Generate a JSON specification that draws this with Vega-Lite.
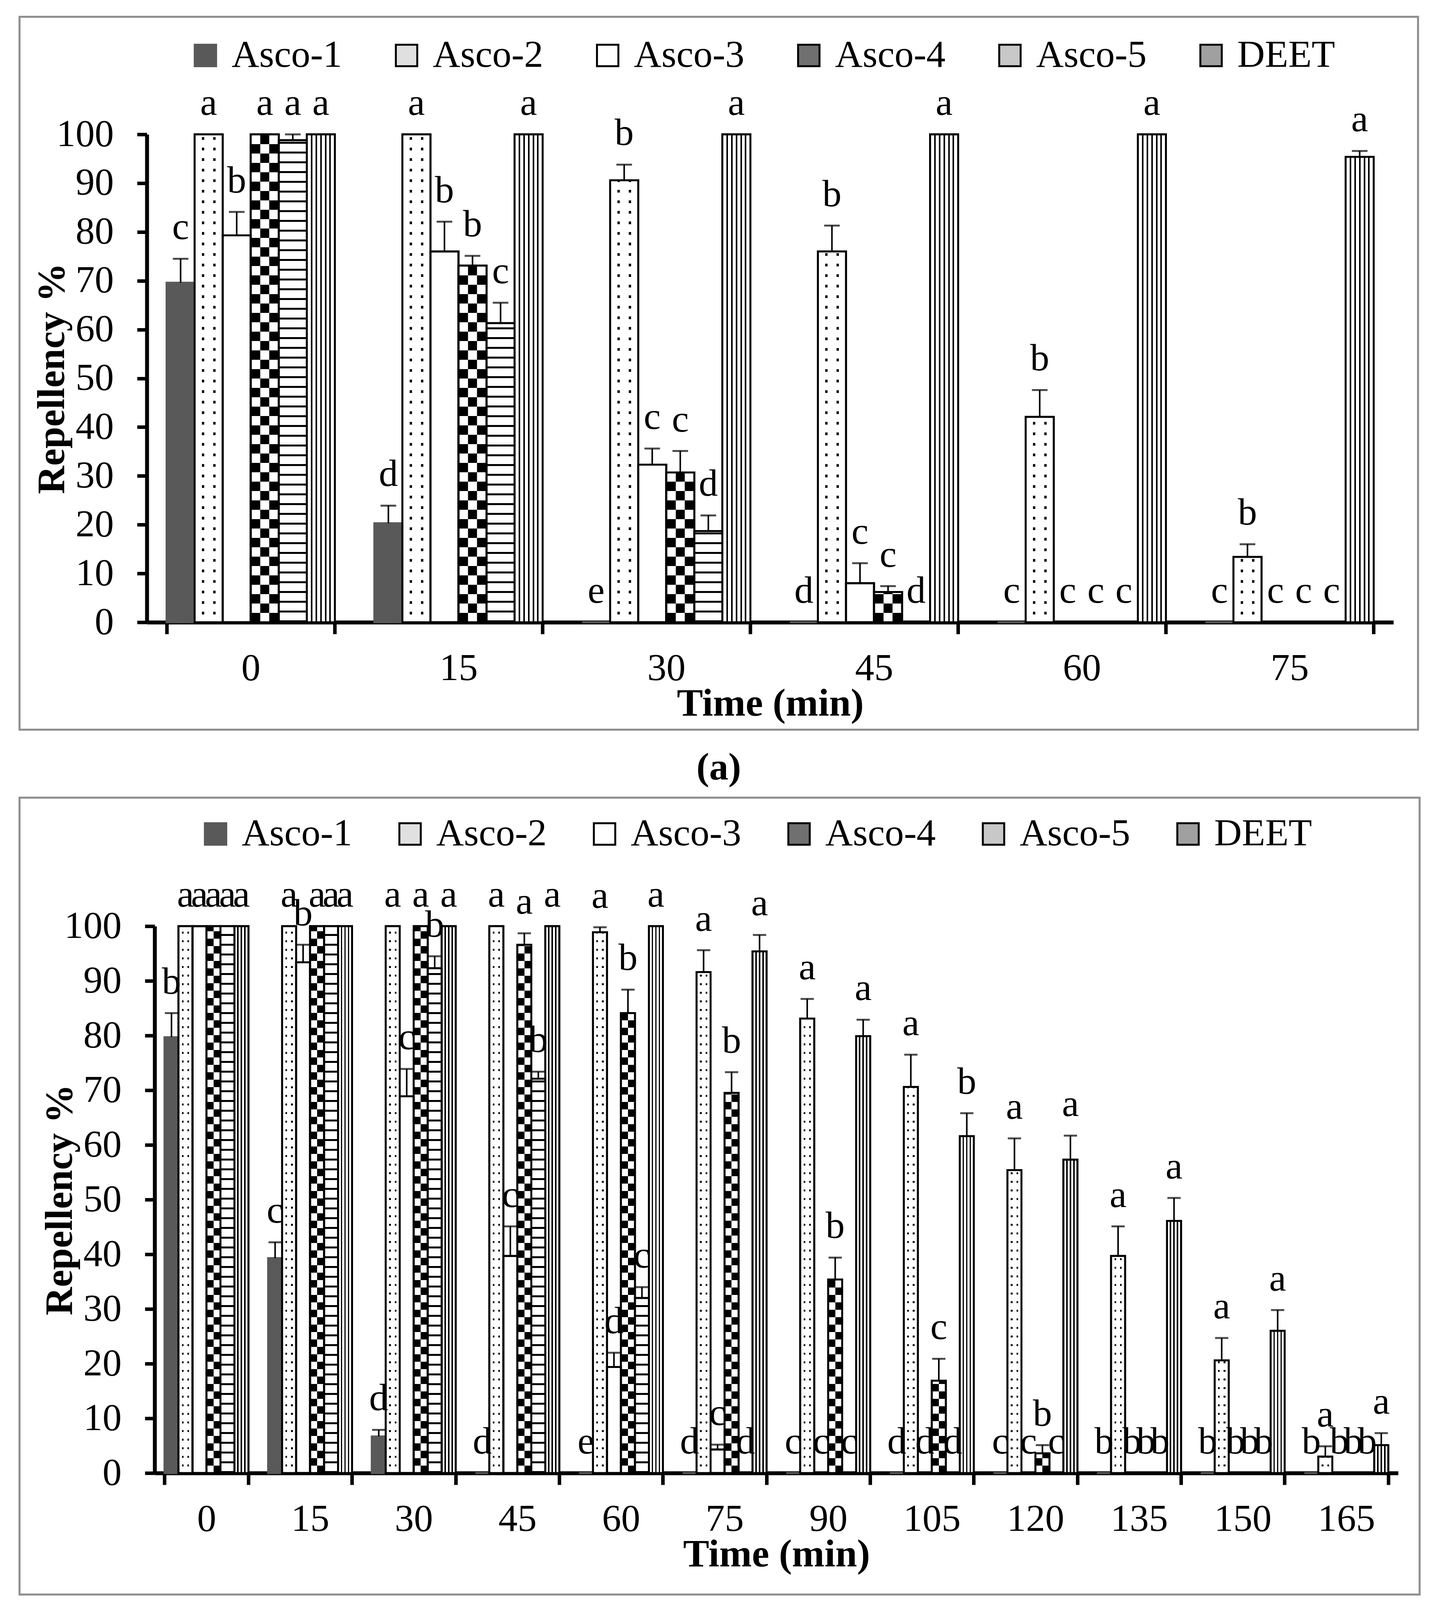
{
  "$schema": "https://vega.github.io/schema/vega-lite/v6.json",
  "background": "white",
  "padding": {"left": 47, "top": 40, "right": 0, "bottom": 150},
  "bounds": "flush",
  "spacing": 174,
  "resolve": {
    "scale": {"x": "independent", "y": "independent", "xOffset": "independent", "fill": "independent", "stroke": "independent"},
    "legend": {"fill": "independent", "stroke": "independent"}
  },
  "config": {
    "font": "Liberation Serif",
    "view": {"stroke": "#8c8c8c", "strokeWidth": 5},
    "axis": {
      "grid": false,
      "zindex": 1,
      "domainColor": "black",
      "domainWidth": 10,
      "tickColor": "black",
      "tickWidth": 9,
      "labelFont": "Liberation Serif",
      "labelFontSize": 98,
      "labelColor": "black",
      "titleFont": "Liberation Serif",
      "titleFontSize": 100,
      "titleFontWeight": "bold",
      "titleColor": "black"
    },
    "legend": {
      "orient": "none",
      "direction": "horizontal",
      "columns": 6,
      "symbolType": "square",
      "symbolSize": 3000,
      "symbolStrokeWidth": 5,
      "labelFont": "Liberation Serif",
      "labelFontSize": 98,
      "labelColor": "black",
      "labelOffset": 18,
      "labelLimit": 0,
      "title": null
    },
    "title": {"font": "Liberation Serif", "fontSize": 98, "fontWeight": "bold", "color": "black"}
  },
  "vconcat": [
    {
      "width": 3581,
      "height": 1825,
      "title": {"text": "(a)", "orient": "bottom", "anchor": "middle", "offset": 50},
      "data": {
        "values": [
          {"time": 0, "series": "Asco-1", "mean": 69.6, "upper": 74.5, "letter": "c"},
          {"time": 0, "series": "Asco-2", "mean": 100, "upper": 100, "letter": "a"},
          {"time": 0, "series": "Asco-3", "mean": 79.3, "upper": 84.1, "letter": "b"},
          {"time": 0, "series": "Asco-4", "mean": 100, "upper": 100, "letter": "a"},
          {"time": 0, "series": "Asco-5", "mean": 98.8, "upper": 100, "letter": "a"},
          {"time": 0, "series": "DEET", "mean": 100, "upper": 100, "letter": "a"},
          {"time": 15, "series": "Asco-1", "mean": 20.3, "upper": 23.9, "letter": "d"},
          {"time": 15, "series": "Asco-2", "mean": 100, "upper": 100, "letter": "a"},
          {"time": 15, "series": "Asco-3", "mean": 76.0, "upper": 82.1, "letter": "b"},
          {"time": 15, "series": "Asco-4", "mean": 73.1, "upper": 75.1, "letter": "b"},
          {"time": 15, "series": "Asco-5", "mean": 61.3, "upper": 65.5, "letter": "c"},
          {"time": 15, "series": "DEET", "mean": 100, "upper": 100, "letter": "a"},
          {"time": 30, "series": "Asco-1", "mean": 0, "upper": 0, "letter": "e"},
          {"time": 30, "series": "Asco-2", "mean": 90.6, "upper": 93.8, "letter": "b"},
          {"time": 30, "series": "Asco-3", "mean": 32.3, "upper": 35.6, "letter": "c"},
          {"time": 30, "series": "Asco-4", "mean": 30.7, "upper": 35.1, "letter": "c"},
          {"time": 30, "series": "Asco-5", "mean": 18.7, "upper": 21.9, "letter": "d"},
          {"time": 30, "series": "DEET", "mean": 100, "upper": 100, "letter": "a"},
          {"time": 45, "series": "Asco-1", "mean": 0, "upper": 0, "letter": "d"},
          {"time": 45, "series": "Asco-2", "mean": 76.0, "upper": 81.3, "letter": "b"},
          {"time": 45, "series": "Asco-3", "mean": 8.0, "upper": 12.1, "letter": "c"},
          {"time": 45, "series": "Asco-4", "mean": 6.2, "upper": 7.4, "letter": "c"},
          {"time": 45, "series": "Asco-5", "mean": 0, "upper": 0, "letter": "d"},
          {"time": 45, "series": "DEET", "mean": 100, "upper": 100, "letter": "a"},
          {"time": 60, "series": "Asco-1", "mean": 0, "upper": 0, "letter": "c"},
          {"time": 60, "series": "Asco-2", "mean": 42.1, "upper": 47.6, "letter": "b"},
          {"time": 60, "series": "Asco-3", "mean": 0, "upper": 0, "letter": "c"},
          {"time": 60, "series": "Asco-4", "mean": 0, "upper": 0, "letter": "c"},
          {"time": 60, "series": "Asco-5", "mean": 0, "upper": 0, "letter": "c"},
          {"time": 60, "series": "DEET", "mean": 100, "upper": 100, "letter": "a"},
          {"time": 75, "series": "Asco-1", "mean": 0, "upper": 0, "letter": "c"},
          {"time": 75, "series": "Asco-2", "mean": 13.4, "upper": 16.0, "letter": "b"},
          {"time": 75, "series": "Asco-3", "mean": 0, "upper": 0, "letter": "c"},
          {"time": 75, "series": "Asco-4", "mean": 0, "upper": 0, "letter": "c"},
          {"time": 75, "series": "Asco-5", "mean": 0, "upper": 0, "letter": "c"},
          {"time": 75, "series": "DEET", "mean": 95.4, "upper": 96.6, "letter": "a"}
        ]
      },
      "encoding": {
        "x": {
          "field": "time",
          "type": "ordinal",
          "title": "Time (min)",
          "scale": {"range": [326, 3518], "paddingInner": 0.19, "paddingOuter": 0.095},
          "axis": {"offset": -275, "tickSize": 30, "tickBand": "extent", "labelAngle": 0, "labelPadding": 40, "titlePadding": -8}
        },
        "xOffset": {
          "field": "series",
          "type": "nominal",
          "sort": ["Asco-1", "Asco-2", "Asco-3", "Asco-4", "Asco-5", "DEET"],
          "scale": {"domain": ["Asco-1", "Asco-2", "Asco-3", "Asco-4", "Asco-5", "DEET"], "paddingInner": 0, "paddingOuter": 0}
        },
        "y": {
          "field": "mean",
          "type": "quantitative",
          "title": "Repellency %",
          "scale": {"domain": [0, 100], "range": [1550, 301], "nice": false, "zero": true},
          "axis": {"offset": -326, "tickSize": 25, "labelPadding": 60, "titlePadding": -8, "values": [0, 10, 20, 30, 40, 50, 60, 70, 80, 90, 100]}
        }
      },
      "layer": [
        {
          "mark": {"type": "bar", "strokeWidth": 5},
          "encoding": {
            "fill": {
              "field": "series",
              "type": "nominal",
              "scale": {
                "domain": ["Asco-1", "Asco-2", "Asco-3", "Asco-4", "Asco-5", "DEET"],
                "range": ["#595959", "#e0e0e0", "#ffffff", "#707070", "#c8c8c8", "#a0a0a0"]
              },
              "legend": {"legendX": 427, "legendY": 50, "columnPadding": 115}
            },
            "stroke": {
              "field": "series",
              "type": "nominal",
              "scale": {
                "domain": ["Asco-1", "Asco-2", "Asco-3", "Asco-4", "Asco-5", "DEET"],
                "range": ["#595959", "black", "black", "black", "black", "black"]
              },
              "legend": {"legendX": 427, "legendY": 50, "columnPadding": 115}
            }
          }
        },
        {
          "transform": [{"filter": {"field": "series", "oneOf": ["Asco-4", "Asco-5"]}}],
          "mark": {"type": "bar", "fill": "white", "strokeWidth": 0}
        },
        {
          "transform": [{"filter": {"field": "series", "equal": "DEET"}}],
          "mark": {
            "type": "bar",
            "strokeWidth": 0,
            "fill": {
              "gradient": "linear", "x1": 0, "y1": 0, "x2": 1, "y2": 0,
              "stops": [
                {"offset": 0, "color": "white"}, {"offset": 0.139, "color": "white"},
                {"offset": 0.139, "color": "black"}, {"offset": 0.195, "color": "black"},
                {"offset": 0.195, "color": "white"}, {"offset": 0.305, "color": "white"},
                {"offset": 0.305, "color": "black"}, {"offset": 0.361, "color": "black"},
                {"offset": 0.361, "color": "white"}, {"offset": 0.472, "color": "white"},
                {"offset": 0.472, "color": "black"}, {"offset": 0.528, "color": "black"},
                {"offset": 0.528, "color": "white"}, {"offset": 0.639, "color": "white"},
                {"offset": 0.639, "color": "black"}, {"offset": 0.695, "color": "black"},
                {"offset": 0.695, "color": "white"}, {"offset": 0.805, "color": "white"},
                {"offset": 0.805, "color": "black"}, {"offset": 0.861, "color": "black"},
                {"offset": 0.861, "color": "white"}, {"offset": 1, "color": "white"}
              ]
            }
          }
        },
        {
          "transform": [{"filter": {"field": "series", "equal": "Asco-2"}}],
          "mark": {
            "type": "bar",
            "strokeWidth": 0,
            "fill": {
              "gradient": "linear", "x1": 0, "y1": 0, "x2": 1, "y2": 0,
              "stops": [
                {"offset": 0, "color": "white"}, {"offset": 0.26, "color": "white"},
                {"offset": 0.26, "color": "black"}, {"offset": 0.34, "color": "black"},
                {"offset": 0.34, "color": "white"}, {"offset": 0.66, "color": "white"},
                {"offset": 0.66, "color": "black"}, {"offset": 0.74, "color": "black"},
                {"offset": 0.74, "color": "white"}, {"offset": 1, "color": "white"}
              ]
            }
          }
        },
        {
          "transform": [{"filter": {"field": "series", "equal": "Asco-2"}}],
          "mark": {"type": "rule", "color": "white", "strokeWidth": 68, "strokeDash": [20, 7]},
          "encoding": {"y": {"datum": 0, "type": "quantitative"}, "y2": {"field": "mean"}}
        },
        {
          "transform": [{"filter": {"field": "series", "equal": "Asco-5"}}],
          "mark": {"type": "rule", "color": "black", "strokeWidth": 68, "strokeDash": [5, 20]},
          "encoding": {"y": {"datum": 0, "type": "quantitative"}, "y2": {"field": "mean"}}
        },
        {
          "transform": [{"filter": {"field": "series", "equal": "Asco-4"}}],
          "mark": {"type": "rule", "color": "black", "strokeWidth": 68, "strokeDash": [24, 24]},
          "encoding": {"y": {"datum": 0, "type": "quantitative"}, "y2": {"field": "mean"}}
        },
        {
          "transform": [{"filter": {"field": "series", "equal": "Asco-4"}}],
          "mark": {"type": "rule", "color": "white", "strokeWidth": 23, "strokeDash": [24, 24]},
          "encoding": {"y": {"datum": 0, "type": "quantitative"}, "y2": {"field": "mean"}}
        },
        {
          "transform": [{"filter": {"field": "series", "equal": "Asco-4"}}],
          "mark": {"type": "rule", "color": "black", "strokeWidth": 23, "strokeDash": [24, 24], "strokeDashOffset": 24},
          "encoding": {"y": {"datum": 0, "type": "quantitative"}, "y2": {"field": "mean"}}
        },
        {
          "transform": [{"filter": "datum.series != 'Asco-1'"}],
          "mark": {"type": "bar", "filled": false, "stroke": "black", "strokeWidth": 5}
        },
        {
          "mark": {"type": "rule", "color": "black", "strokeWidth": 4},
          "encoding": {"y2": {"field": "upper"}}
        },
        {
          "transform": [{"filter": "datum.upper > datum.mean"}],
          "mark": {"type": "tick", "color": "black", "thickness": 5, "size": 40},
          "encoding": {"y": {"field": "upper", "type": "quantitative"}}
        },
        {
          "mark": {"type": "text", "baseline": "alphabetic", "align": "center", "dy": -50, "fontSize": 98, "color": "black"},
          "encoding": {
            "y": {"field": "upper", "type": "quantitative"},
            "text": {"field": "letter"}
          }
        }
      ]
    },
    {
      "width": 3585,
      "height": 2040,
      "title": {"text": "(b)", "orient": "bottom", "anchor": "middle", "offset": 15},
      "data": {
        "values": [
          {"time": 0, "series": "Asco-1", "mean": 79.7, "upper": 84.1, "letter": "b"},
          {"time": 0, "series": "Asco-2", "mean": 100, "upper": 100, "letter": "a"},
          {"time": 0, "series": "Asco-3", "mean": 100, "upper": 100, "letter": "a"},
          {"time": 0, "series": "Asco-4", "mean": 100, "upper": 100, "letter": "a"},
          {"time": 0, "series": "Asco-5", "mean": 100, "upper": 100, "letter": "a"},
          {"time": 0, "series": "DEET", "mean": 100, "upper": 100, "letter": "a"},
          {"time": 15, "series": "Asco-1", "mean": 39.3, "upper": 42.2, "letter": "c"},
          {"time": 15, "series": "Asco-2", "mean": 100, "upper": 100, "letter": "a"},
          {"time": 15, "series": "Asco-3", "mean": 93.4, "upper": 96.6, "letter": "b"},
          {"time": 15, "series": "Asco-4", "mean": 100, "upper": 100, "letter": "a"},
          {"time": 15, "series": "Asco-5", "mean": 100, "upper": 100, "letter": "a"},
          {"time": 15, "series": "DEET", "mean": 100, "upper": 100, "letter": "a"},
          {"time": 30, "series": "Asco-1", "mean": 6.7, "upper": 7.9, "letter": "d"},
          {"time": 30, "series": "Asco-2", "mean": 100, "upper": 100, "letter": "a"},
          {"time": 30, "series": "Asco-3", "mean": 68.9, "upper": 73.9, "letter": "c"},
          {"time": 30, "series": "Asco-4", "mean": 100, "upper": 100, "letter": "a"},
          {"time": 30, "series": "Asco-5", "mean": 92.3, "upper": 94.5, "letter": "b"},
          {"time": 30, "series": "DEET", "mean": 100, "upper": 100, "letter": "a"},
          {"time": 45, "series": "Asco-1", "mean": 0, "upper": 0, "letter": "d"},
          {"time": 45, "series": "Asco-2", "mean": 100, "upper": 100, "letter": "a"},
          {"time": 45, "series": "Asco-3", "mean": 39.7, "upper": 45.1, "letter": "c"},
          {"time": 45, "series": "Asco-4", "mean": 96.6, "upper": 98.7, "letter": "a"},
          {"time": 45, "series": "Asco-5", "mean": 72.1, "upper": 73.4, "letter": "b"},
          {"time": 45, "series": "DEET", "mean": 100, "upper": 100, "letter": "a"},
          {"time": 60, "series": "Asco-1", "mean": 0, "upper": 0, "letter": "e"},
          {"time": 60, "series": "Asco-2", "mean": 98.9, "upper": 99.8, "letter": "a"},
          {"time": 60, "series": "Asco-3", "mean": 19.4, "upper": 22.0, "letter": "d"},
          {"time": 60, "series": "Asco-4", "mean": 84.1, "upper": 88.4, "letter": "b"},
          {"time": 60, "series": "Asco-5", "mean": 32.0, "upper": 34.0, "letter": "c"},
          {"time": 60, "series": "DEET", "mean": 100, "upper": 100, "letter": "a"},
          {"time": 75, "series": "Asco-1", "mean": 0, "upper": 0, "letter": "d"},
          {"time": 75, "series": "Asco-2", "mean": 91.6, "upper": 95.6, "letter": "a"},
          {"time": 75, "series": "Asco-3", "mean": 4.3, "upper": 5.2, "letter": "c"},
          {"time": 75, "series": "Asco-4", "mean": 69.5, "upper": 73.3, "letter": "b"},
          {"time": 75, "series": "Asco-5", "mean": 0, "upper": 0, "letter": "d"},
          {"time": 75, "series": "DEET", "mean": 95.4, "upper": 98.4, "letter": "a"},
          {"time": 90, "series": "Asco-1", "mean": 0, "upper": 0, "letter": "c"},
          {"time": 90, "series": "Asco-2", "mean": 83.1, "upper": 86.7, "letter": "a"},
          {"time": 90, "series": "Asco-3", "mean": 0, "upper": 0, "letter": "c"},
          {"time": 90, "series": "Asco-4", "mean": 35.4, "upper": 39.4, "letter": "b"},
          {"time": 90, "series": "Asco-5", "mean": 0, "upper": 0, "letter": "c"},
          {"time": 90, "series": "DEET", "mean": 79.9, "upper": 82.9, "letter": "a"},
          {"time": 105, "series": "Asco-1", "mean": 0, "upper": 0, "letter": "d"},
          {"time": 105, "series": "Asco-2", "mean": 70.6, "upper": 76.5, "letter": "a"},
          {"time": 105, "series": "Asco-3", "mean": 0, "upper": 0, "letter": "d"},
          {"time": 105, "series": "Asco-4", "mean": 16.9, "upper": 20.9, "letter": "c"},
          {"time": 105, "series": "Asco-5", "mean": 0, "upper": 0, "letter": "d"},
          {"time": 105, "series": "DEET", "mean": 61.6, "upper": 65.8, "letter": "b"},
          {"time": 120, "series": "Asco-1", "mean": 0, "upper": 0, "letter": "c"},
          {"time": 120, "series": "Asco-2", "mean": 55.4, "upper": 61.2, "letter": "a"},
          {"time": 120, "series": "Asco-3", "mean": 0, "upper": 0, "letter": "c"},
          {"time": 120, "series": "Asco-4", "mean": 3.6, "upper": 5.1, "letter": "b"},
          {"time": 120, "series": "Asco-5", "mean": 0, "upper": 0, "letter": "c"},
          {"time": 120, "series": "DEET", "mean": 57.3, "upper": 61.7, "letter": "a"},
          {"time": 135, "series": "Asco-1", "mean": 0, "upper": 0, "letter": "b"},
          {"time": 135, "series": "Asco-2", "mean": 39.7, "upper": 45.1, "letter": "a"},
          {"time": 135, "series": "Asco-3", "mean": 0, "upper": 0, "letter": "b"},
          {"time": 135, "series": "Asco-4", "mean": 0, "upper": 0, "letter": "b"},
          {"time": 135, "series": "Asco-5", "mean": 0, "upper": 0, "letter": "b"},
          {"time": 135, "series": "DEET", "mean": 46.1, "upper": 50.3, "letter": "a"},
          {"time": 150, "series": "Asco-1", "mean": 0, "upper": 0, "letter": "b"},
          {"time": 150, "series": "Asco-2", "mean": 20.6, "upper": 24.7, "letter": "a"},
          {"time": 150, "series": "Asco-3", "mean": 0, "upper": 0, "letter": "b"},
          {"time": 150, "series": "Asco-4", "mean": 0, "upper": 0, "letter": "b"},
          {"time": 150, "series": "Asco-5", "mean": 0, "upper": 0, "letter": "b"},
          {"time": 150, "series": "DEET", "mean": 26.0, "upper": 29.8, "letter": "a"},
          {"time": 165, "series": "Asco-1", "mean": 0, "upper": 0, "letter": "b"},
          {"time": 165, "series": "Asco-2", "mean": 3.0, "upper": 4.9, "letter": "a"},
          {"time": 165, "series": "Asco-3", "mean": 0, "upper": 0, "letter": "b"},
          {"time": 165, "series": "Asco-4", "mean": 0, "upper": 0, "letter": "b"},
          {"time": 165, "series": "Asco-5", "mean": 0, "upper": 0, "letter": "b"},
          {"time": 165, "series": "DEET", "mean": 5.1, "upper": 7.3, "letter": "a"}
        ]
      },
      "encoding": {
        "x": {
          "field": "time",
          "type": "ordinal",
          "title": "Time (min)",
          "scale": {"range": [346, 3530], "paddingInner": 0.19, "paddingOuter": 0.095},
          "axis": {"offset": -311, "tickSize": 30, "tickBand": "extent", "labelAngle": 0, "labelPadding": 40, "titlePadding": -8}
        },
        "xOffset": {
          "field": "series",
          "type": "nominal",
          "sort": ["Asco-1", "Asco-2", "Asco-3", "Asco-4", "Asco-5", "DEET"],
          "scale": {"domain": ["Asco-1", "Asco-2", "Asco-3", "Asco-4", "Asco-5", "DEET"], "paddingInner": 0, "paddingOuter": 0}
        },
        "y": {
          "field": "mean",
          "type": "quantitative",
          "title": "Repellency %",
          "scale": {"domain": [0, 100], "range": [1729, 329], "nice": false, "zero": true},
          "axis": {"offset": -346, "tickSize": 25, "labelPadding": 60, "titlePadding": -8, "values": [0, 10, 20, 30, 40, 50, 60, 70, 80, 90, 100]}
        }
      },
      "layer": [
        {
          "mark": {"type": "bar", "strokeWidth": 5},
          "encoding": {
            "fill": {
              "field": "series",
              "type": "nominal",
              "scale": {
                "domain": ["Asco-1", "Asco-2", "Asco-3", "Asco-4", "Asco-5", "DEET"],
                "range": ["#595959", "#e0e0e0", "#ffffff", "#707070", "#c8c8c8", "#a0a0a0"]
              },
              "legend": {"legendX": 453, "legendY": 44, "columnPadding": 98}
            },
            "stroke": {
              "field": "series",
              "type": "nominal",
              "scale": {
                "domain": ["Asco-1", "Asco-2", "Asco-3", "Asco-4", "Asco-5", "DEET"],
                "range": ["#595959", "black", "black", "black", "black", "black"]
              },
              "legend": {"legendX": 453, "legendY": 44, "columnPadding": 98}
            }
          }
        },
        {
          "transform": [{"filter": {"field": "series", "equal": "Asco-5"}}],
          "mark": {"type": "bar", "fill": "white", "strokeWidth": 0}
        },
        {
          "transform": [{"filter": {"field": "series", "equal": "DEET"}}],
          "mark": {
            "type": "bar",
            "strokeWidth": 0,
            "fill": {
              "gradient": "linear", "x1": 0, "y1": 0, "x2": 1, "y2": 0,
              "stops": [
                {"offset": 0, "color": "white"}, {"offset": 0.2, "color": "white"},
                {"offset": 0.2, "color": "black"}, {"offset": 0.3, "color": "black"},
                {"offset": 0.3, "color": "white"}, {"offset": 0.45, "color": "white"},
                {"offset": 0.45, "color": "black"}, {"offset": 0.55, "color": "black"},
                {"offset": 0.55, "color": "white"}, {"offset": 0.7, "color": "white"},
                {"offset": 0.7, "color": "black"}, {"offset": 0.8, "color": "black"},
                {"offset": 0.8, "color": "white"}, {"offset": 1, "color": "white"}
              ]
            }
          }
        },
        {
          "transform": [{"filter": {"field": "series", "equal": "Asco-2"}}],
          "mark": {
            "type": "bar",
            "strokeWidth": 0,
            "fill": {
              "gradient": "linear", "x1": 0, "y1": 0, "x2": 1, "y2": 0,
              "stops": [
                {"offset": 0, "color": "white"}, {"offset": 0.24, "color": "white"},
                {"offset": 0.24, "color": "black"}, {"offset": 0.36, "color": "black"},
                {"offset": 0.36, "color": "white"}, {"offset": 0.64, "color": "white"},
                {"offset": 0.64, "color": "black"}, {"offset": 0.76, "color": "black"},
                {"offset": 0.76, "color": "white"}, {"offset": 1, "color": "white"}
              ]
            }
          }
        },
        {
          "transform": [{"filter": {"field": "series", "equal": "Asco-2"}}],
          "mark": {"type": "rule", "color": "white", "strokeWidth": 34, "strokeDash": [17, 5]},
          "encoding": {"y": {"datum": 0, "type": "quantitative"}, "y2": {"field": "mean"}}
        },
        {
          "transform": [{"filter": {"field": "series", "equal": "Asco-4"}}],
          "mark": {
            "type": "bar",
            "strokeWidth": 0,
            "fill": {
              "gradient": "linear", "x1": 0, "y1": 0, "x2": 1, "y2": 0,
              "stops": [
                {"offset": 0, "color": "black"}, {"offset": 0.5, "color": "black"},
                {"offset": 0.5, "color": "white"}, {"offset": 1, "color": "white"}
              ]
            }
          }
        },
        {
          "transform": [{"filter": {"field": "series", "equal": "Asco-4"}}],
          "mark": {"type": "rule", "color": "white", "strokeWidth": 34, "strokeDash": [19, 19], "blend": "difference"},
          "encoding": {"y": {"datum": 0, "type": "quantitative"}, "y2": {"field": "mean"}}
        },
        {
          "transform": [{"filter": {"field": "series", "equal": "Asco-5"}}],
          "mark": {"type": "rule", "color": "black", "strokeWidth": 34, "strokeDash": [5, 20]},
          "encoding": {"y": {"datum": 0, "type": "quantitative"}, "y2": {"field": "mean"}}
        },
        {
          "transform": [{"filter": "datum.series != 'Asco-1'"}],
          "mark": {"type": "bar", "filled": false, "stroke": "black", "strokeWidth": 5}
        },
        {
          "mark": {"type": "rule", "color": "black", "strokeWidth": 4},
          "encoding": {"y2": {"field": "upper"}}
        },
        {
          "transform": [{"filter": "datum.upper > datum.mean"}],
          "mark": {"type": "tick", "color": "black", "thickness": 5, "size": 34},
          "encoding": {"y": {"field": "upper", "type": "quantitative"}}
        },
        {
          "mark": {"type": "text", "baseline": "alphabetic", "align": "center", "dy": -50, "fontSize": 98, "color": "black"},
          "encoding": {
            "y": {"field": "upper", "type": "quantitative"},
            "text": {"field": "letter"}
          }
        }
      ]
    }
  ]
}
